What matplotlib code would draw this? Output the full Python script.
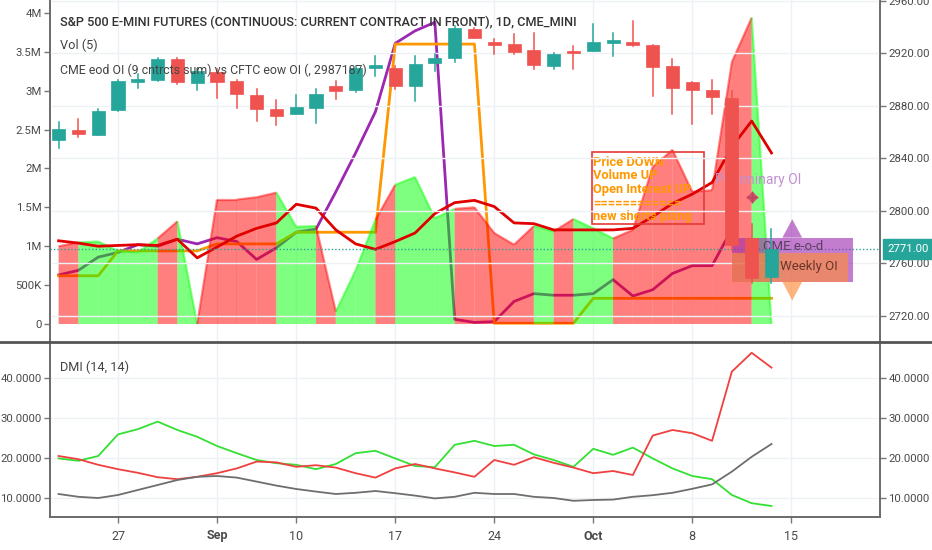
import matplotlib
matplotlib.use('Agg')
import matplotlib.pyplot as plt
from matplotlib.patches import Rectangle, Polygon
from matplotlib.ticker import FuncFormatter
from matplotlib import font_manager
import numpy as np

# ---------------- data ----------------
dates = ['Aug 22', 'Aug 23', 'Aug 24', 'Aug 27', 'Aug 28', 'Aug 29', 'Aug 30', 'Aug 31',
         'Sep 4', 'Sep 5', 'Sep 6', 'Sep 7', 'Sep 10', 'Sep 11', 'Sep 12', 'Sep 13', 'Sep 14',
         'Sep 17', 'Sep 18', 'Sep 19', 'Sep 20', 'Sep 21', 'Sep 24', 'Sep 25', 'Sep 26',
         'Sep 27', 'Sep 28', 'Oct 1', 'Oct 2', 'Oct 3', 'Oct 4', 'Oct 5', 'Oct 8', 'Oct 9',
         'Oct 10', 'Oct 11', 'Oct 12']

opens = [2853.6, 2861.9, 2858.1, 2877.1, 2898.4, 2899.9, 2915.8, 2897.6, 2906.0, 2899.1,
         2888.5, 2877.9, 2874.1, 2878.6, 2895.3, 2892.3, 2909.0, 2909.0, 2895.3, 2912.8,
         2916.6, 2938.6, 2928.7, 2927.2, 2922.7, 2910.5, 2921.9, 2921.9, 2928.0, 2928.7,
         2926.4, 2910.5, 2898.4, 2892.3, 2886.2, 2779.0, 2749.6]
highs = [2868.0, 2870.3, 2877.9, 2900.0, 2904.4, 2916.6, 2916.6, 2908.2, 2908.2, 2899.9,
         2893.1, 2884.7, 2888.5, 2893.1, 2899.1, 2910.5, 2918.1, 2910.5, 2918.1, 2919.6,
         2940.9, 2939.4, 2931.0, 2934.8, 2935.6, 2920.4, 2925.7, 2942.4, 2935.6, 2944.7,
         2926.4, 2915.8, 2898.4, 2899.9, 2891.5, 2790.0, 2786.0]
lows = [2847.5, 2855.9, 2857.4, 2876.4, 2893.8, 2899.1, 2896.9, 2892.3, 2886.2, 2878.6,
        2868.8, 2865.7, 2874.1, 2867.2, 2885.5, 2890.8, 2902.9, 2893.1, 2884.0, 2906.7,
        2913.5, 2931.8, 2919.6, 2919.6, 2908.2, 2908.2, 2908.2, 2921.9, 2918.1, 2925.7,
        2887.7, 2874.1, 2866.5, 2874.1, 2770.0, 2745.0, 2745.0]
closes = [2862.7, 2858.5, 2876.4, 2899.1, 2900.6, 2915.8, 2898.4, 2906.7, 2898.4, 2889.3,
          2877.9, 2872.6, 2879.4, 2889.3, 2891.5, 2909.0, 2911.3, 2895.3, 2912.0, 2916.6,
          2939.4, 2931.8, 2926.4, 2921.1, 2911.3, 2919.6, 2920.4, 2928.7, 2930.2, 2926.4,
          2909.7, 2893.8, 2892.3, 2887.0, 2773.6, 2749.0, 2771.0]

# CME daily volume (millions) - area
volume = [1.00, 1.05, 1.06, 0.94, 0.92, 1.10, 1.32, 0.00, 1.60, 1.60, 1.63, 1.69, 1.25,
          1.26, 0.16, 0.69, 1.34, 1.79, 1.89, 1.36, 1.48, 1.50, 1.17, 1.02, 1.26, 1.19,
          1.35, 1.23, 1.10, 1.21, 2.02, 2.24, 1.70, 1.72, 3.37, 3.94, 0.00]
# volume moving average (millions)
vol_ma = [1.07, 1.04, 1.00, 1.01, 1.02, 1.01, 1.09, 0.85, 0.99, 1.13, 1.23, 1.30, 1.54,
          1.49, 1.21, 1.03, 0.96, 1.06, 1.17, 1.42, 1.56, 1.59, 1.51, 1.30, 1.29, 1.21,
          1.21, 1.21, 1.21, 1.23, 1.38, 1.55, 1.67, 1.82, 2.28, 2.61, 2.20]
# CME end-of-day OI (millions)
cme_oi = [0.63, 0.69, 0.86, 0.92, 1.02, 1.00, 1.09, 1.03, 1.11, 1.06, 0.83, 0.98, 1.18,
          1.22, 1.70, 2.20, 2.73, 3.61, 3.77, 3.88, 0.06, 0.02, 0.03, 0.29, 0.39, 0.37,
          0.37, 0.39, 0.57, 0.36, 0.44, 0.65, 0.75, 0.75, 1.22]
# CFTC end-of-week OI (millions)
cftc_oi = [0.62, 0.62, 0.62, 0.94, 0.94, 0.94, 0.94, 0.94, 1.03, 1.03, 1.03, 1.03, 1.18,
           1.18, 1.18, 1.18, 1.18, 3.60, 3.60, 3.60, 3.60, 3.60, 0.01, 0.01, 0.01, 0.01,
           0.01, 0.33, 0.33, 0.33, 0.33, 0.33, 0.33, 0.33, 0.33, 0.33, 0.33]
prelim_oi = 1.63

# DMI (14, 14)
di_plus = [19.9, 19.3, 20.5, 25.9, 27.2, 29.1, 27.0, 25.3, 23.0, 21.2, 19.5, 18.7, 18.3,
           17.2, 18.5, 21.2, 21.8, 19.9, 18.0, 17.7, 23.3, 24.3, 23.0, 23.3, 20.9, 19.5,
           17.8, 22.3, 20.8, 22.6, 19.9, 17.4, 15.5, 14.7, 10.75, 8.7, 8.0]
di_minus = [20.5, 19.7, 18.3, 17.2, 16.3, 15.2, 14.7, 15.3, 16.2, 17.4, 19.1, 18.9, 17.8,
            18.2, 17.6, 16.2, 15.1, 17.4, 18.5, 17.4, 16.4, 15.3, 19.5, 18.3, 20.2, 18.8,
            17.6, 16.2, 16.75, 15.75, 25.6, 27.0, 26.2, 24.3, 41.6, 46.3, 42.6]
adx = [11.0, 10.3, 10.0, 10.75, 12.0, 13.25, 14.5, 15.3, 15.5, 15.1, 14.1, 13.1, 12.25,
       11.6, 11.0, 11.3, 11.75, 11.2, 10.6, 9.9, 10.3, 11.3, 11.0, 11.0, 10.3, 10.0, 9.3,
       9.5, 9.6, 10.3, 10.7, 11.3, 12.3, 13.4, 16.6, 20.3, 23.5]

x_tick_pos = [3, 8, 12, 17, 22, 27, 32, 37]
x_tick_labels = ['27', 'Sep', '10', '17', '24', 'Oct', '8', '15']
last_price = 2771.0

# ---------------- fonts ----------------
names = {f.name for f in font_manager.fontManager.ttflist}
FONT = 'Liberation Sans Narrow' if 'Liberation Sans Narrow' in names else 'Roboto'
plt.rcParams['font.family'] = [FONT, 'DejaVu Sans']

UP = '#26A69A'
DN = '#EF5350'
GRID = '#EDF0F4'
TXT = '#4A4A4A'
TICK_FS = 8.2

fig = plt.figure(figsize=(9.32, 5.5), dpi=100)
L = 50 / 932
W = 830 / 932
ax1 = fig.add_axes([L, 1 - 341 / 550, W, 341 / 550])
ax2 = fig.add_axes([L, 1 - 517 / 550, W, (517 - 343) / 550], sharex=ax1)

n = len(closes)
idx = np.arange(n)
ax1.set_xlim(-0.434, 41.48)

# ---- OI panel (left axis, millions) ----
ax1.set_ylim(-0.219, 4.167)
ax1.plot(np.arange(len(cme_oi)), cme_oi, color='#9C27B0', lw=2, zorder=1)
ax1.plot(idx, cftc_oi, color='#FF9800', lw=2, zorder=1)
for i in range(1, n):
    up = closes[i] >= opens[i]
    fc = (0.0, 1.0, 0.0) if up else (1.0, 0.0, 0.0)
    poly = Polygon([(i - 1, 0), (i - 1, volume[i - 1]), (i, volume[i]), (i, 0)],
                   closed=True, facecolor=fc, alpha=0.5, edgecolor='none', zorder=2)
    ax1.add_patch(poly)
    ax1.plot([i - 1, i], [volume[i - 1], volume[i]], color=fc, alpha=0.45, lw=1.6,
             zorder=2.5, solid_capstyle='butt')
ax1.plot(idx, vol_ma, color='#E00000', lw=2, zorder=3)

# annotation box
ax1.add_patch(Rectangle((26.92, 1.286), 32.6 - 26.92, 2.212 - 1.286, fill=False,
                        edgecolor='#E53935', lw=1.2, zorder=5))
ann_lines = ['Price DOWN', 'Volume UP', 'Open Interest UP', '============', 'new shorts piling']
for k, t in enumerate(ann_lines):
    ax1.text(26.99, 2.08 - k * 0.174, t, color='#FF9800', fontsize=9.3, fontweight='bold',
             va='center', ha='left', zorder=6)
ax1.text(33.15, 1.85, 'Preliminary OI', color='#C28FD2', fontsize=10, va='center',
         ha='left', zorder=6)
ax1.plot([35], [prelim_oi], marker='D', ms=5, color='#D0506A', zorder=6, ls='none')
ax1.plot([35], [prelim_oi], marker='+', ms=9, mew=1, color='#C04060', zorder=6, ls='none')

ax1.set_yticks([0, 0.5, 1, 1.5, 2, 2.5, 3, 3.5, 4])
ax1.yaxis.set_major_formatter(FuncFormatter(
    lambda v, p: '0' if v == 0 else ('%gK' % (v * 1000) if v < 1 else '%gM' % v)))

# ---- price panel (right axis) ----
ax1r = ax1.twinx()
ax1r.set_ylim(2700.7, 2960.7)
ax1r.set_yticks(np.arange(2720, 2961, 40))
ax1r.yaxis.set_major_formatter(FuncFormatter(lambda v, p: '%.2f' % v))
ax1r.grid(axis='y', color=GRID, lw=1, zorder=0)
ax1r.axhline(last_price, color=UP, lw=1, ls=(0, (1, 1.5)), zorder=2)

# labels at right
ax1r.add_patch(Rectangle((34.0, 2746.0), 6.1, 2779.5 - 2746.0, facecolor='#9C27B0',
                         alpha=0.6, edgecolor='none', zorder=2.4))
ax1r.add_patch(Polygon([(36.55, 2779.5), (37.55, 2779.5), (37.05, 2793.5)],
                       facecolor='#9C27B0', alpha=0.6, edgecolor='none', zorder=2.4))
ax1r.add_patch(Rectangle((34.0, 2746.0), 5.85, 2767.5 - 2746.0, facecolor='#FF8C3A',
                         alpha=0.65, edgecolor='none', zorder=2.5))
ax1r.add_patch(Polygon([(36.55, 2746.0), (37.55, 2746.0), (37.05, 2731.5)],
                       facecolor='#FF8C3A', alpha=0.65, edgecolor='none', zorder=2.5))
ax1r.text(35.55, 2772.5, 'CME e-o-d', color='#5A4060', fontsize=9.5, va='center',
          ha='left', zorder=2.6)
ax1r.text(36.45, 2757.5, 'Weekly OI', color='#6A3828', fontsize=9.5, va='center',
          ha='left', zorder=2.6)

# candles
for i in range(n):
    up = closes[i] >= opens[i]
    c = UP if up else DN
    ax1r.plot([i, i], [lows[i], highs[i]], color=c, lw=1.1, zorder=3)
    lo = min(opens[i], closes[i])
    h = max(abs(closes[i] - opens[i]), 1.2)
    ax1r.add_patch(Rectangle((i - 0.33, lo), 0.66, h, facecolor=c, edgecolor=c,
                             lw=0.5, zorder=3.1))

ax1r.annotate('%.2f' % last_price, xy=(1, last_price), xycoords=('axes fraction', 'data'),
              xytext=(5.5, 0), textcoords='offset points', color='white', fontsize=8.2,
              va='center', ha='left', annotation_clip=False, zorder=10,
              bbox=dict(boxstyle='square,pad=0.45', fc=UP, ec=UP))

# ---- DMI panel ----
ax2.set_ylim(5.25, 48.75)
ax2.plot(idx, di_plus, color='#33E033', lw=1.3, zorder=3)
ax2.plot(idx, di_minus, color='#F04040', lw=1.3, zorder=3)
ax2.plot(idx, adx, color='#6E6E6E', lw=1.3, zorder=3)
ax2.set_yticks([10, 20, 30, 40])
ax2.yaxis.set_major_formatter(FuncFormatter(lambda v, p: '%.4f' % v))
ax2.grid(axis='y', color=GRID, lw=1, zorder=0)
ax2r = ax2.twinx()
ax2r.set_ylim(5.25, 48.75)
ax2r.set_yticks([10, 20, 30, 40])
ax2r.yaxis.set_major_formatter(FuncFormatter(lambda v, p: '%.4f' % v))

ax2.set_xticks(x_tick_pos)
ax2.set_xticklabels(x_tick_labels)
for lab in ax2.get_xticklabels():
    if lab.get_text() in ('Sep', 'Oct'):
        lab.set_fontweight('bold')
for xp in x_tick_pos:
    ax1.axvline(xp, color=GRID, lw=1, zorder=0)
    ax2.axvline(xp, color=GRID, lw=1, zorder=0)

# ---- styling ----
for a in (ax1, ax1r, ax2, ax2r):
    a.tick_params(axis='both', colors='#777777', labelcolor=TXT, labelsize=TICK_FS,
                  length=4, width=1, pad=2)
    for s in a.spines.values():
        s.set_color('#6A6A6A')
        s.set_linewidth(1.2)
for a in (ax1, ax1r):
    a.spines['top'].set_visible(False)
    a.spines['bottom'].set_visible(False)
ax1.tick_params(axis='x', bottom=False, labelbottom=False)
ax2.spines['top'].set_visible(False)
ax2r.spines['top'].set_visible(False)
ax2.tick_params(axis='x', labelsize=9, pad=5)
ax1r.set_zorder(ax1.get_zorder() + 1)

# separator
fig.add_artist(plt.Line2D([0, 1], [1 - 342 / 550, 1 - 342 / 550], color='#555555', lw=2,
                          transform=fig.transFigure))

# legend texts
fig.text(60 / 932, 1 - 22 / 550,
         'S&P 500 E-MINI FUTURES (CONTINUOUS: CURRENT CONTRACT IN FRONT), 1D, CME_MINI',
         color='#333333', fontsize=9.2, va='center', ha='left', fontweight='medium')
fig.text(60 / 932, 1 - 45 / 550, 'Vol (5)', color='#444444', fontsize=9.2, va='center')
fig.text(60 / 932, 1 - 70 / 550, 'CME eod OI (9 cntrcts sum) vs CFTC eow OI (, 2987187)',
         color='#444444', fontsize=8.9, va='center')
fig.text(60 / 932, 1 - 367 / 550, 'DMI (14, 14)', color='#444444', fontsize=9.2,
         va='center')

fig.savefig('out.png', dpi=100)
